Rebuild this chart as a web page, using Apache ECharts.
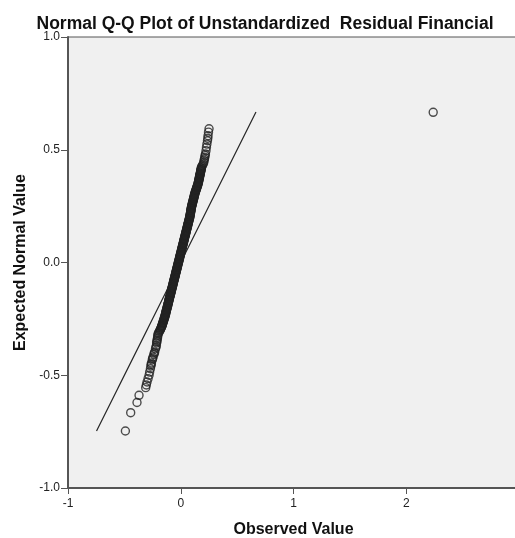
<!DOCTYPE html>
<html>
<head>
<meta charset="utf-8">
<script src="https://cdn.jsdelivr.net/npm/echarts@6/dist/echarts.min.js"></script>
<style>html,body{margin:0;padding:0;background:#fff;}#chart{width:515px;height:538px;}</style>
</head>
<body>
<div id="chart"></div>
<script>
var chartTitle = 'Normal Q-Q Plot of Unstandardized  Residual Financial';
var xAxisName = 'Observed Value';
var yAxisName = 'Expected Normal Value';
var xTicks = [-1, 0, 1, 2];
var yTicks = [-1.0, -0.5, 0.0, 0.5, 1.0];

var observed = [
  -0.491,-0.444,-0.388,-0.370,-0.311,-0.305,-0.299,-0.290,-0.281,-0.276,
  -0.269,-0.265,-0.262,-0.260,-0.253,-0.249,-0.246,-0.238,-0.235,-0.231,
  -0.224,-0.220,-0.216,-0.214,-0.212,-0.210,-0.207,-0.205,-0.203,-0.201,
  -0.195,-0.190,
  -0.184,-0.179,-0.172,-0.169,-0.164,-0.162,-0.156,-0.154,-0.148,-0.146,
  -0.140,-0.139,-0.134,-0.133,-0.128,-0.127,-0.122,-0.121,-0.116,-0.115,
  -0.110,-0.108,-0.106,-0.101,-0.100,-0.095,-0.094,-0.089,-0.088,-0.083,
  -0.082,-0.077,-0.076,-0.071,-0.070,-0.065,-0.064,-0.059,-0.058,-0.053,
  -0.052,-0.047,-0.046,-0.041,-0.040,-0.035,-0.034,-0.029,-0.028,-0.023,
  -0.022,-0.017,-0.016,-0.011,-0.010,-0.005,-0.004,0.001,0.002,0.007,
  0.008,0.013,0.014,0.019,0.020,0.025,0.026,0.031,0.032,0.037,
  0.038,0.043,0.044,0.049,0.050,0.055,0.056,0.061,0.062,0.067,
  0.068,0.073,0.074,0.079,0.080,0.084,0.084,0.088,0.088,0.092,
  0.092,0.096,0.097,0.102,0.103,0.108,0.109,0.114,0.115,0.120,
  0.121,0.126,0.128,0.134,0.136,0.142,0.144,0.150,0.152,0.157,
  0.157,0.162,0.162,0.167,0.167,0.172,0.172,0.177,0.177,0.182,
  0.182,
  0.186,0.192,0.199,0.204,0.207,0.210,0.213,0.216,0.219,0.224,
  0.228,0.232,0.237,0.240,0.242,0.246,0.251,2.239,
  -0.182,-0.175,-0.171,-0.166,-0.163,-0.159,-0.155,-0.151,-0.147,-0.143,
  -0.140,-0.136,-0.133,-0.131,-0.128,-0.124,-0.121,-0.118,-0.115,-0.112,
  -0.109,-0.107,-0.103,-0.101,-0.097,-0.094,-0.091,-0.088,-0.085,-0.082,
  -0.079,-0.076,-0.073,-0.070,-0.067,-0.064,-0.061,-0.058,-0.055,-0.052,
  -0.049,-0.046,-0.043,-0.040,-0.037,-0.034,-0.031,-0.028,-0.025,-0.022,
  -0.019,-0.016,-0.013,-0.010,-0.007,-0.004,-0.001,0.002,0.005,0.008,
  0.011,0.014,0.017,0.020,0.023,0.026,0.029,0.032,0.035,0.038,
  0.041,0.044,0.047,0.050,0.053,0.056,0.059,0.062,0.065,0.068,
  0.071,0.074,0.077,0.080,0.082,0.084,0.086,0.088,0.090,0.092,
  0.094,0.097,0.100,0.103,0.106,0.109,0.112,0.115,0.118,0.121,
  0.124,0.127,0.131,0.135,0.139,0.143,0.147,0.151,0.154,0.157,
  0.160,0.162,0.165,0.167,0.170,0.172,0.175,0.177,0.180,0.182
];
var expected = [
  -0.747,-0.666,-0.621,-0.589,-0.555,-0.543,-0.530,-0.515,-0.500,-0.486,
  -0.471,-0.459,-0.452,-0.446,-0.432,-0.426,-0.419,-0.408,-0.402,-0.397,
  -0.383,-0.376,-0.368,-0.357,-0.351,-0.345,-0.337,-0.330,-0.323,-0.316,
  -0.311,-0.306,
  -0.301,-0.295,-0.288,-0.283,-0.278,-0.271,-0.266,-0.259,-0.253,-0.246,
  -0.241,-0.234,-0.229,-0.222,-0.216,-0.211,-0.204,-0.198,-0.193,-0.186,
  -0.180,-0.175,-0.168,-0.163,-0.156,-0.150,-0.145,-0.138,-0.132,-0.127,
  -0.120,-0.114,-0.109,-0.102,-0.096,-0.091,-0.084,-0.078,-0.073,-0.066,
  -0.060,-0.055,-0.048,-0.042,-0.037,-0.030,-0.024,-0.019,-0.012,-0.006,
  -0.001,0.006,0.012,0.017,0.024,0.030,0.035,0.042,0.048,0.053,
  0.060,0.066,0.071,0.078,0.084,0.089,0.096,0.102,0.107,0.114,
  0.120,0.125,0.132,0.138,0.143,0.150,0.156,0.161,0.168,0.174,
  0.179,0.186,0.192,0.197,0.204,0.210,0.215,0.222,0.228,0.233,
  0.240,0.246,0.251,0.258,0.264,0.269,0.276,0.282,0.287,0.294,
  0.300,0.305,0.312,0.318,0.323,0.330,0.336,0.341,0.348,0.354,
  0.359,0.366,0.372,0.377,0.384,0.390,0.395,0.402,0.408,0.413,
  0.420,
  0.425,0.430,0.437,0.444,0.452,0.459,0.466,0.474,0.481,0.496,
  0.511,0.525,0.540,0.551,0.562,0.578,0.593,0.666,
  -0.298,-0.291,-0.285,-0.280,-0.274,-0.268,-0.262,-0.256,-0.249,-0.243,
  -0.237,-0.231,-0.225,-0.219,-0.213,-0.207,-0.201,-0.195,-0.189,-0.183,
  -0.177,-0.171,-0.165,-0.159,-0.153,-0.147,-0.141,-0.135,-0.129,-0.123,
  -0.117,-0.111,-0.105,-0.099,-0.093,-0.087,-0.081,-0.075,-0.069,-0.063,
  -0.057,-0.051,-0.045,-0.039,-0.033,-0.027,-0.021,-0.015,-0.009,-0.003,
  0.003,0.009,0.015,0.021,0.027,0.033,0.039,0.045,0.051,0.057,
  0.063,0.069,0.075,0.081,0.087,0.093,0.099,0.105,0.111,0.117,
  0.123,0.129,0.135,0.141,0.147,0.153,0.159,0.165,0.171,0.177,
  0.183,0.189,0.195,0.201,0.207,0.213,0.219,0.225,0.231,0.237,
  0.243,0.249,0.255,0.261,0.267,0.273,0.279,0.285,0.291,0.297,
  0.303,0.309,0.315,0.321,0.327,0.333,0.339,0.345,0.351,0.357,
  0.363,0.369,0.375,0.381,0.387,0.393,0.399,0.405,0.411,0.417
];
var refLine = [-0.747, 0.667];

var points = observed.map(function (x, i) { return [x, expected[i]]; });
var linePts = refLine.map(function (v) { return [v, v]; });

var chart = echarts.init(document.getElementById('chart'), null, {renderer: 'canvas'});
var font = 'Arial, "Liberation Sans", sans-serif';
chart.setOption({
  backgroundColor: '#ffffff',
  animation: false,
  title: {
    text: chartTitle,
    left: 260, textAlign: 'center', top: 10,
    textStyle: {fontFamily: font, fontSize: 17.5, fontWeight: 'bold', color: '#111'}
  },
  grid: {
    left: 68, top: 37, width: 451, height: 451,
    containLabel: false, outerBoundsMode: 'none',
    show: true, backgroundColor: '#f0f0f0', borderColor: '#555', borderWidth: 1
  },
  xAxis: {
    type: 'value', min: -1, max: 3, interval: 1,
    name: xAxisName, nameLocation: 'middle', nameGap: 34,
    nameTextStyle: {fontFamily: font, fontSize: 16, fontWeight: 'bold', color: '#111'},
    axisLine: {show: true, onZero: false, lineStyle: {color: '#555', width: 2}},
    axisTick: {show: true, length: 6, lineStyle: {color: '#555', width: 1}},
    axisLabel: {fontFamily: font, fontSize: 12, color: '#222', margin: 10,
      formatter: function (v) { return xTicks.indexOf(v) >= 0 ? String(v) : ''; }},
    splitLine: {show: false}
  },
  yAxis: {
    type: 'value', min: -1, max: 1, interval: 0.5,
    name: yAxisName, nameLocation: 'middle', nameGap: 38, nameRotate: 90,
    nameTextStyle: {fontFamily: font, fontSize: 16, fontWeight: 'bold', color: '#111'},
    axisLine: {show: true, onZero: false, lineStyle: {color: '#555', width: 2}},
    axisTick: {show: true, length: 7, lineStyle: {color: '#555', width: 1}},
    axisLabel: {fontFamily: font, fontSize: 12, color: '#222', margin: 8,
      formatter: function (v) { return yTicks.indexOf(v) >= 0 ? v.toFixed(1) : ''; }},
    splitLine: {show: false}
  },
  series: [
    {
      type: 'line', data: linePts, symbol: 'none', silent: true,
      lineStyle: {color: '#222', width: 1.2}, z: 2
    },
    {
      type: 'scatter', data: points, symbol: 'circle', symbolSize: 8,
      itemStyle: {color: 'rgba(0,0,0,0)', borderColor: '#222', borderWidth: 1.4},
      z: 3
    }
  ]
});
</script>
</body>
</html>
